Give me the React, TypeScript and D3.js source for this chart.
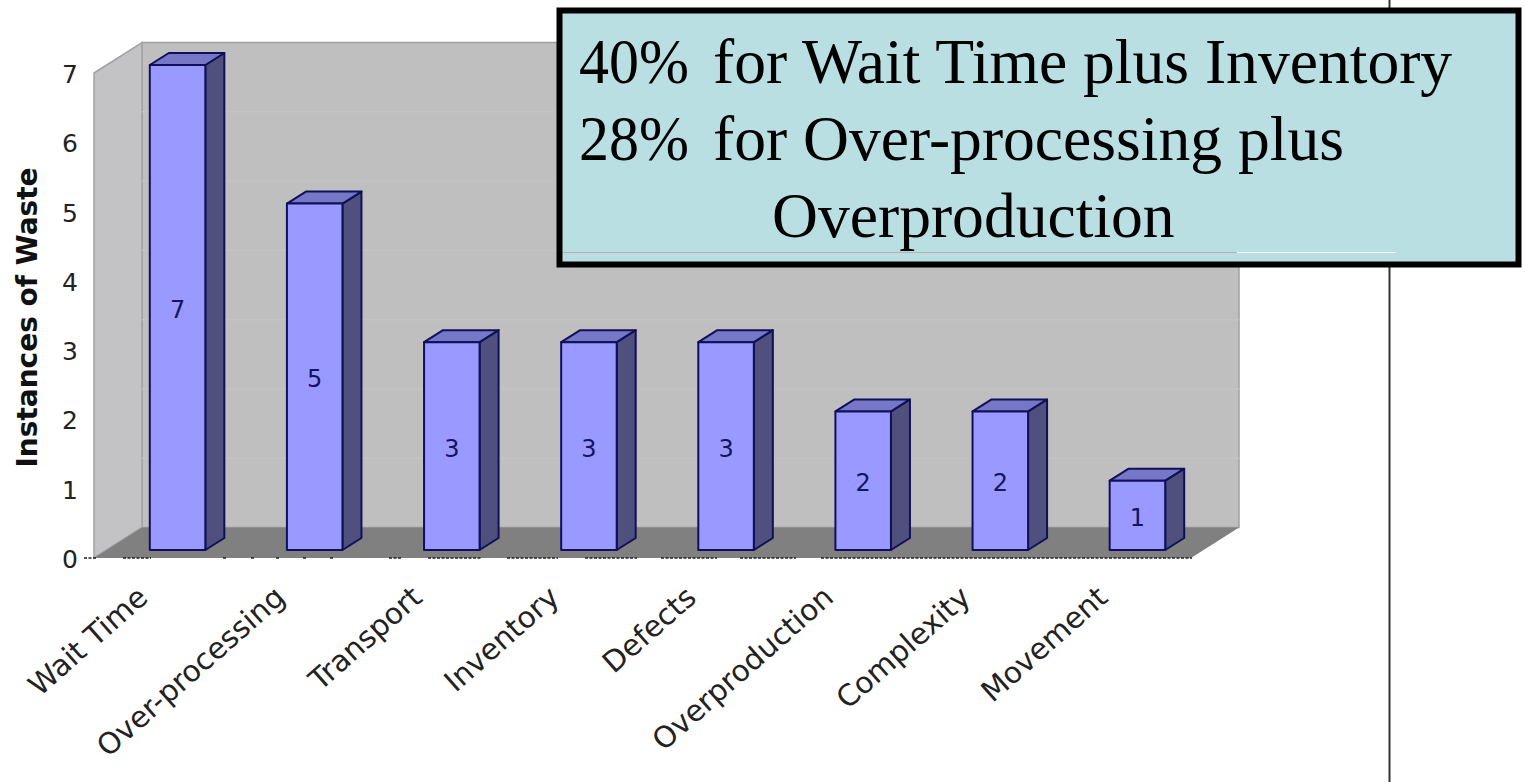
import React from "react";
import * as d3 from "d3";

const categories = ["Wait Time", "Over-processing", "Transport", "Inventory", "Defects", "Overproduction", "Complexity", "Movement"];
const instances = [7, 5, 3, 3, 3, 2, 2, 1];
const yTicks = [0, 1, 2, 3, 4, 5, 6, 7];
const axisTitle = "Instances of Waste";
const noteLines = [
  { lead: "40%", rest: "for Wait Time plus Inventory" },
  { lead: "28%", rest: "for Over-processing plus" },
  { lead: "", rest: "Overproduction" },
];
// Stretches of the baseline where the dashed rule survives.
const baselineDashes = [[84, 96], [123, 151], [223, 226], [251, 254], [276, 279], [303, 306], [330, 333], [389, 401], [428, 482], [507, 558], [585, 637], [661, 717], [740, 796], [821, 1192]];

const WIDTH = 1526;
const HEIGHT = 782;
const FLOOR_DX = 48;
const FLOOR_DY = -30.5;
const BAR_DX = 19;
const BAR_DY = -12;
const BAR_SHIFT_X = 15;
const BAR_SHIFT_Y = -8;

const x = d3.scaleBand<string>().domain(categories).range([94, 1191]).paddingInner(0.595).paddingOuter(0.2975);
const y = d3.scaleLinear().domain([0, 7]).range([558, 73]);

const sans = "'DejaVu Sans', Verdana, sans-serif";
const serif = "'Liberation Serif', 'Times New Roman', serif";
const poly = (pts: [number, number][]) => (d3.line()(pts) ?? "") + "Z";

export default function App() {
  const x0 = x.range()[0];
  const x1 = x.range()[1];
  const y0 = y(0);
  const yTop = y(7);
  const bw = x.bandwidth();

  return (
    <svg width={WIDTH} height={HEIGHT} viewBox={`0 0 ${WIDTH} ${HEIGHT}`} style={{ position: "absolute", left: 0, top: 0, background: "#fff" }}>
      {/* Chart box: back wall, side wall and floor */}
      <rect x={x0 + FLOOR_DX} y={yTop + FLOOR_DY} width={x1 - x0} height={y0 - yTop} fill="#bfbfbf" stroke="#a0a0a0" strokeWidth={1.5} />
      <path d={poly([[x0, yTop], [x0 + FLOOR_DX, yTop + FLOOR_DY], [x0 + FLOOR_DX, y0 + FLOOR_DY], [x0, y0]])} fill="#c3c3c5" stroke="#a2a2a2" strokeWidth={1.5} />
      {yTicks.slice(1, -1).map((t) => (
        <line key={t} x1={x0 + FLOOR_DX} x2={x1 + FLOOR_DX} y1={y(t) + FLOOR_DY} y2={y(t) + FLOOR_DY} stroke="#c3c3c3" strokeWidth={1.5} />
      ))}
      <path d={poly([[x0, y0], [x0 + FLOOR_DX, y0 + FLOOR_DY], [x1 + FLOOR_DX, y0 + FLOOR_DY], [x1, y0]])} fill="#808080" />
      {baselineDashes.map(([a, b]) => (
        <line key={a} x1={a} x2={b} y1={y0} y2={y0} stroke="#222" strokeWidth={1.5} strokeDasharray="3 1.5" />
      ))}

      {/* Y axis */}
      {yTicks.map((t) => (
        <text key={t} x={78} y={y(t) + 1} dy="0.36em" textAnchor="end" fontFamily={sans} fontSize={25} fill="#222">{t}</text>
      ))}
      <text transform="translate(37,317.5) rotate(-90)" textAnchor="middle" fontFamily={sans} fontWeight="bold" fontSize={28} fill="#111">{axisTitle}</text>

      {/* Extruded bars */}
      {categories.map((c, i) => {
        const v = instances[i];
        const left = (x(c) ?? 0) + BAR_SHIFT_X;
        const right = left + bw;
        const top = y(v) + BAR_SHIFT_Y;
        const base = y0 + BAR_SHIFT_Y;
        return (
          <g key={c} stroke="#10105a" strokeWidth={2} strokeLinejoin="round">
            <path d={poly([[right, top], [right + BAR_DX, top + BAR_DY], [right + BAR_DX, base + BAR_DY], [right, base]])} fill="#50507f" />
            <path d={poly([[left, top], [left + BAR_DX, top + BAR_DY], [right + BAR_DX, top + BAR_DY], [right, top]])} fill="#7777c8" />
            <rect x={left} y={top} width={bw} height={base - top} fill="#9999ff" />
            <text x={(left + right) / 2} y={(top + base) / 2 + 2} dy="0.36em" textAnchor="middle" fontFamily={sans} fontSize={24} fill="#14145f" stroke="none">{v}</text>
          </g>
        );
      })}

      {/* Slanted category labels */}
      {categories.map((c) => {
        const cx = (x(c) ?? 0) + bw / 2 - 20;
        return (
          <text key={c} transform={`translate(${cx},592) rotate(-41.5)`} textAnchor="end" dy="0.36em" fontFamily={sans} fontSize={29.5} fill="#222">{c}</text>
        );
      })}

      {/* Rule running behind the note */}
      <line x1={1389.5} x2={1389.5} y1={0} y2={HEIGHT} stroke="#333" strokeWidth={2} />

      {/* Note box */}
      <rect x={559.5} y={10.5} width={959} height={254} fill="#b9dfe3" stroke="#000" strokeWidth={6} />
      <line x1={563} x2={1237} y1={252.5} y2={252.5} stroke="#b5b0ac" strokeWidth={1} />
      <line x1={1237} x2={1395} y1={252.5} y2={252.5} stroke="#fff" strokeWidth={1} />
      {noteLines.map((l, i) => (
        <g key={i} fontFamily={serif} fontSize={63.6} fill="#000">
          {l.lead && <text x={579} y={82.5 + i * 77} textLength={110} lengthAdjust="spacingAndGlyphs">{l.lead}</text>}
          <text x={l.lead ? 713 : 772} y={82.5 + i * 77}>{l.rest}</text>
        </g>
      ))}
    </svg>
  );
}
